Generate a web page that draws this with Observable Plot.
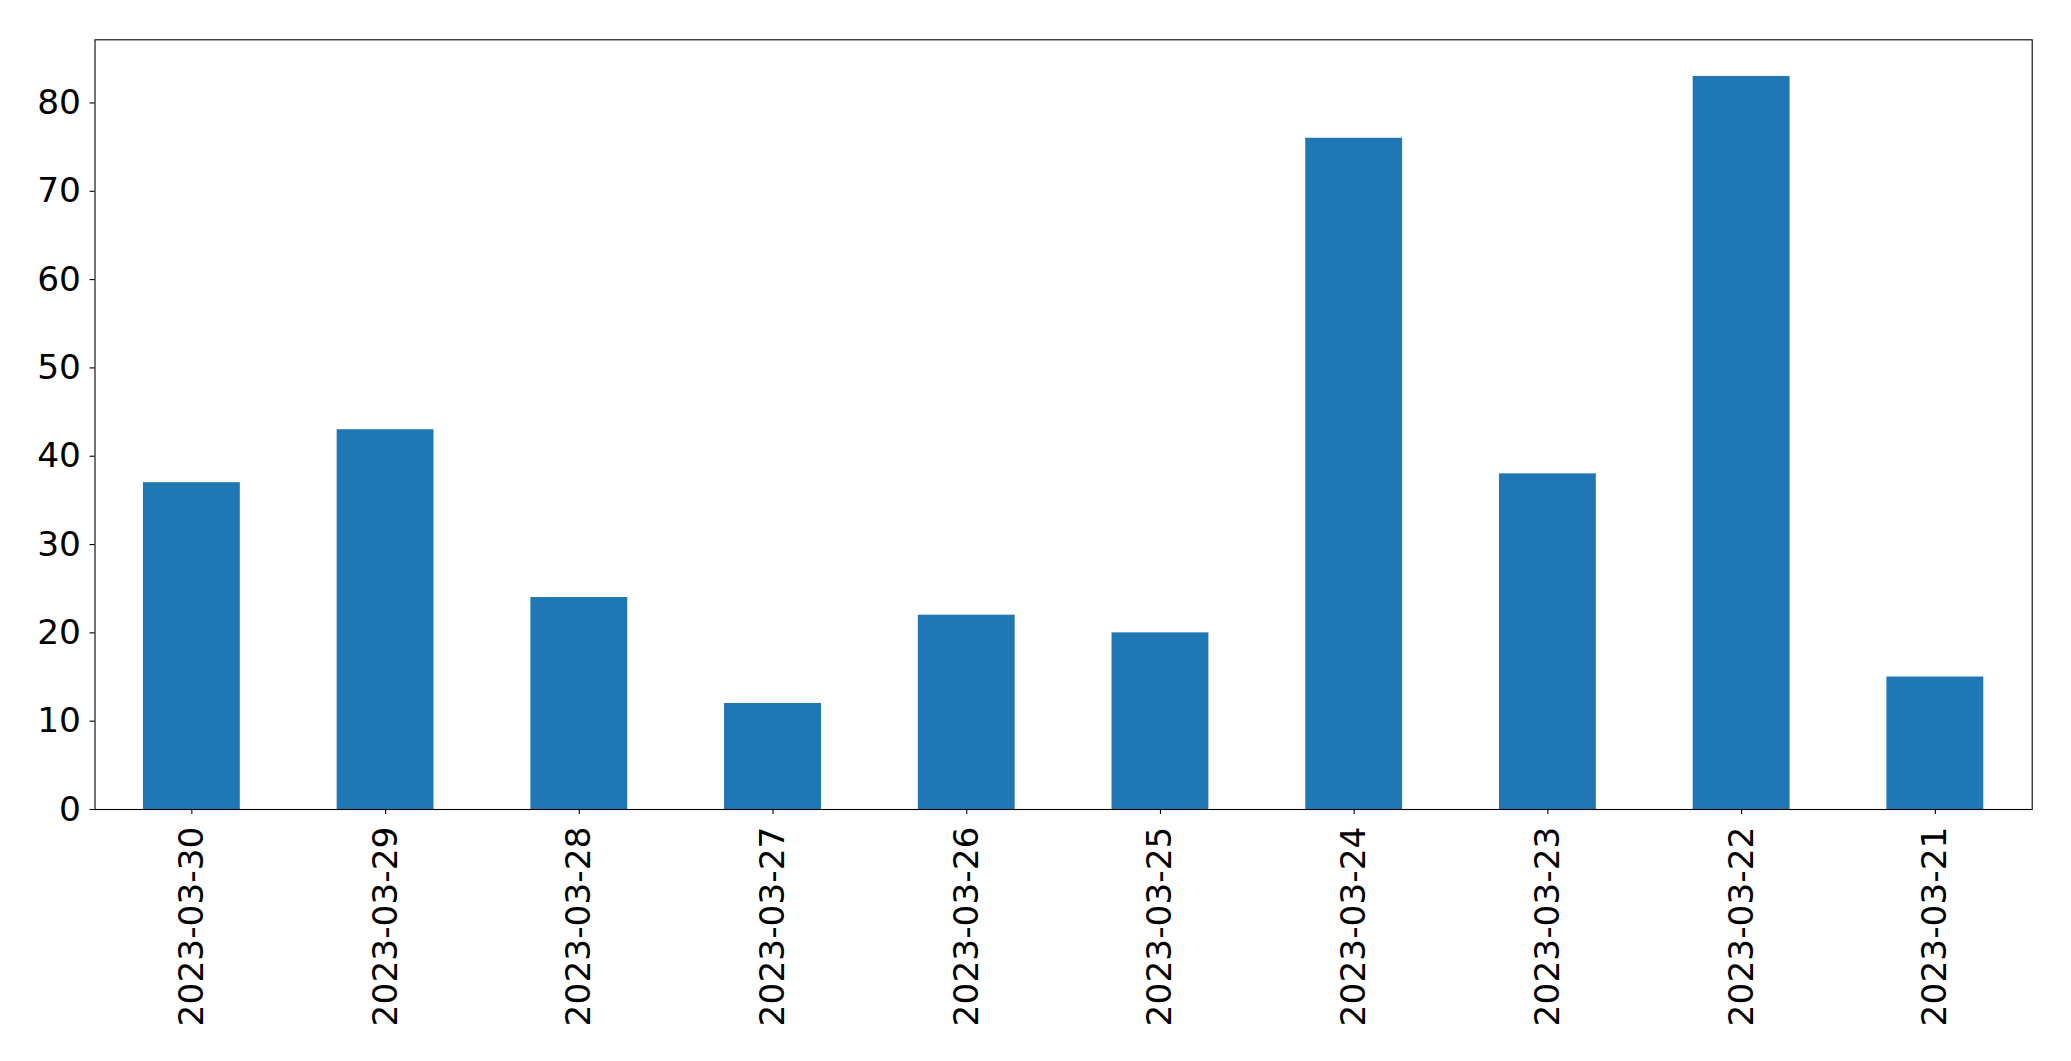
<!DOCTYPE html>
<html>
<head>
<meta charset="utf-8">
<script src="https://cdn.jsdelivr.net/npm/d3@7"></script>
<script src="https://cdn.jsdelivr.net/npm/@observablehq/plot@0.6"></script>
<style>
  html, body { margin: 0; padding: 0; background: #fff; overflow: hidden; }
  #chart svg { display: block; }
</style>
</head>
<body>
<div id="chart"></div>
<script>
const dates = ["2023-03-30", "2023-03-29", "2023-03-28", "2023-03-27", "2023-03-26",
               "2023-03-25", "2023-03-24", "2023-03-23", "2023-03-22", "2023-03-21"];
const counts = [37, 43, 24, 12, 22, 20, 76, 38, 83, 15];
const yTicks = [0, 10, 20, 30, 40, 50, 60, 70, 80];

const data = dates.map((d, i) => ({date: d, value: counts[i]}));

const chart = Plot.plot({
  width: 2071,
  height: 1061,
  marginLeft: 94.5,
  marginRight: 39.3,
  marginTop: 39.3,
  marginBottom: 252,
  style: {fontFamily: "DejaVu Sans", color: "#000", background: "#fff", overflow: "visible"},
  x: {type: "band", domain: dates, paddingInner: 0.5, paddingOuter: 0.25, round: false, label: null},
  y: {domain: [0, 87.15], label: null},
  marks: [
    Plot.barY(data, {x: "date", y: "value", fill: "#1f77b4"}),
    Plot.frame({stroke: "#000", strokeWidth: 1.1}),
    Plot.axisY({ticks: yTicks, tickSize: 5, tickPadding: 9, fontSize: 34.4, tickFormat: d => String(d), label: null, strokeWidth: 1.1}),
    Plot.axisX({tickSize: 5, tickPadding: 12, fontSize: 34.4, tickRotate: -90, label: null, strokeWidth: 1.1})
  ]
});
document.getElementById("chart").appendChild(chart);
</script>
</body>
</html>
